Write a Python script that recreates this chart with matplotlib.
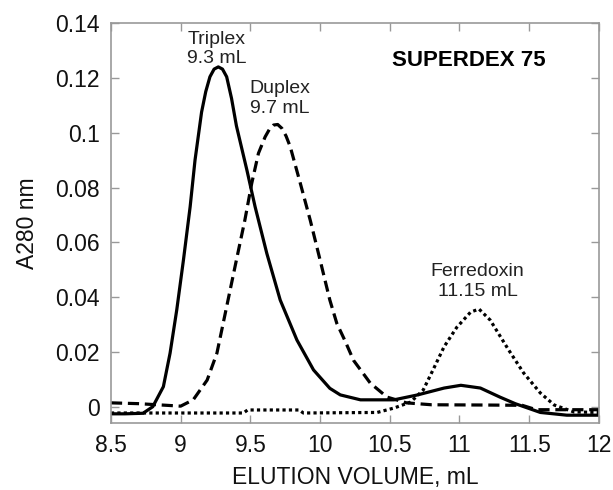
import matplotlib.pyplot as plt

plt.rcParams['font.family'] = ['Liberation Sans', 'DejaVu Sans']

# Triplex (solid)
triplex_x = [8.50, 8.60, 8.73, 8.80, 8.876, 8.924, 8.972, 9.02, 9.068, 9.103, 9.15, 9.18, 9.21,
             9.24, 9.27, 9.30, 9.33, 9.365, 9.40, 9.475, 9.534, 9.618, 9.714, 9.834, 9.953,
             10.07, 10.145, 10.29, 10.53, 10.70, 10.89, 11.01, 11.15, 11.29, 11.40, 11.49,
             11.58, 11.77, 12.0]
triplex_y = [-0.0025, -0.0025, -0.0023, 0.0001, 0.0074, 0.0196, 0.0354, 0.0536, 0.073, 0.090,
             0.1075, 0.115, 0.1204, 0.1232, 0.124, 0.1232, 0.1204, 0.1125, 0.1025, 0.0864,
             0.073, 0.056, 0.039, 0.0244, 0.0135, 0.0068, 0.0044, 0.0026, 0.0026, 0.0044,
             0.0069, 0.0079, 0.0069, 0.0036, 0.0012, -0.0004, -0.002, -0.003, -0.003]

# Duplex (dashed)
duplex_x = [8.50, 8.70, 9.00, 9.09, 9.19, 9.26, 9.33, 9.40, 9.46, 9.51, 9.558, 9.606, 9.636,
            9.666, 9.696, 9.726, 9.756, 9.786, 9.858, 9.93, 10.0, 10.07, 10.12, 10.18, 10.24,
            10.36, 10.48, 10.62, 10.80, 11.20, 11.45, 11.55, 12.0]
duplex_y = [0.0015, 0.0012, 0.0003, 0.0026, 0.0098, 0.0196, 0.0366, 0.0536, 0.068, 0.0816,
            0.0925, 0.0985, 0.1012, 0.1028, 0.1030, 0.1016, 0.0988, 0.0949, 0.0816, 0.068,
            0.0536, 0.039, 0.0305, 0.024, 0.017, 0.0087, 0.0036, 0.0015, 0.0008, 0.0007,
            0.0006, -0.001, -0.001]

# Ferredoxin (dotted)
ferre_x = [8.50, 9.45, 9.48, 9.85, 9.88, 10.41, 10.53, 10.65, 10.74, 10.81, 10.89, 10.98,
           11.08, 11.14, 11.22, 11.35, 11.46, 11.58, 11.68, 11.82, 12.0]
ferre_y = [-0.0022, -0.0022, -0.0011, -0.0011, -0.0022, -0.002, -0.0004, 0.0018, 0.0062,
           0.0135, 0.022, 0.029, 0.0346, 0.0357, 0.0317, 0.021, 0.0124, 0.0051, 0.0007,
           -0.0018, -0.002]

fig = plt.figure(figsize=(6.13, 4.9), dpi=100)
ax = fig.add_axes([0.181, 0.137, 0.796, 0.816])

ax.plot(triplex_x, triplex_y, color='black', lw=2.3, solid_joinstyle='round')
ax.plot(duplex_x, duplex_y, color='black', lw=2.3, linestyle=(0, (3.5, 1.8)))
ax.plot(ferre_x, ferre_y, color='black', lw=2.3, linestyle=(0, (1, 1)))

ax.text(9.26, 0.1305, 'Triplex\n9.3 mL', ha='center', va='center', fontsize=14,
        color='#222222', linespacing=1.2)
ax.text(9.71, 0.1125, 'Duplex\n9.7 mL', ha='center', va='center', fontsize=14,
        color='#222222', linespacing=1.2)
ax.text(11.13, 0.0458, 'Ferredoxin\n11.15 mL', ha='center', va='center', fontsize=14,
        color='#222222', linespacing=1.2)
ax.text(11.07, 0.1265, 'SUPERDEX 75', ha='center', va='center', fontsize=16,
        fontweight='bold', color='black')

ax.set_xlim(8.5, 12)
ax.set_ylim(-0.0058, 0.14)
ax.set_xticks([8.5, 9, 9.5, 10, 10.5, 11, 11.5, 12])
ax.set_xticklabels(['8.5', '9', '9.5', '10', '10.5', '11', '11.5', '12'])
ax.set_yticks([0, 0.02, 0.04, 0.06, 0.08, 0.1, 0.12, 0.14])
ax.set_yticklabels(['0', '0.02', '0.04', '0.06', '0.08', '0.1', '0.12', '0.14'])

for s in ax.spines.values():
    s.set_color('#999999')
    s.set_linewidth(1.2)
ax.tick_params(direction='in', top=True, right=True, length=6, width=1,
               color='#999999', labelsize=16.5, labelcolor='#111111', pad=8)

ax.set_xlabel('ELUTION VOLUME, mL', fontsize=16.5, color='#111111', labelpad=6.5)
ax.set_ylabel('A280 nm', fontsize=16.5, color='#111111', labelpad=12)

fig.savefig('out.png', dpi=100)
